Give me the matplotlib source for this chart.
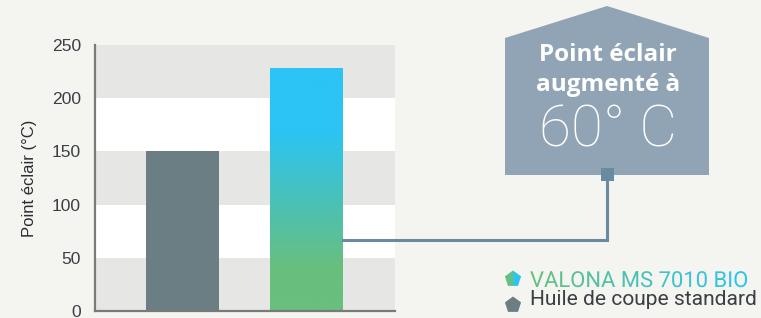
import numpy as np
import matplotlib
matplotlib.use("Agg")
import matplotlib.pyplot as plt
from matplotlib.patches import Polygon, PathPatch, Rectangle
from matplotlib.textpath import TextPath
from matplotlib.font_manager import FontProperties
from matplotlib.colors import LinearSegmentedColormap
from matplotlib.transforms import Affine2D

# data
categories = ["Huile de coupe standard", "VALONA MS 7010 BIO"]
flash_points = [150, 228]
yticks = [0, 50, 100, 150, 200, 250]
callout_lines = ["Point éclair", "augmenté à", "60° C"]

bg = "#f4f4f0"
band_gray = "#e6e7e4"
slate = "#6b7e84"
green = "#68bf7e"
cyan = "#2bc4f4"
box_col = "#91a4b5"
link_col = "#6a8aa0"
grad = LinearSegmentedColormap.from_list("valona", [green, green, cyan, cyan])

fig = plt.figure(figsize=(7.61, 3.18), dpi=100, facecolor=bg)
ax = fig.add_axes([95 / 761, 7 / 318, 300 / 761, 266 / 318])
ax.set_facecolor("white")

# alternating bands
for i, lo in enumerate(yticks[:-1]):
    if i % 2 == 0:
        ax.axhspan(lo, yticks[i + 1], color=band_gray, lw=0, zorder=0)

x = np.arange(len(categories))
bars = ax.bar(x, flash_points, width=0.59, color=[slate, "none"], zorder=2)

# gradient fill for the second bar
b = bars[1]
x0, w, h = b.get_x(), b.get_width(), b.get_height()
vals = np.linspace(0, 1, 256).reshape(-1, 1)
vgrad = np.clip((vals * h - 40) / (170 - 40), 0, 1)
im = ax.imshow(vgrad, extent=[x0, x0 + w, 0, h], origin="lower",
               cmap=LinearSegmentedColormap.from_list("v", [green, cyan]),
               aspect="auto", zorder=2)
im.set_clip_path(b)

ax.set_xlim(-0.71, 1.72)
ax.set_ylim(0, 250)
ax.set_yticks(yticks)
ax.set_xticks([])
ax.tick_params(axis="y", length=0, pad=10, labelsize=12.6, labelcolor="#3a3f44")
for lab in ax.get_yticklabels():
    lab.set_family("Liberation Sans")
ax.set_ylabel("Point éclair (°C)", family="Liberation Sans", fontsize=12,
              color="#2a2e31", labelpad=11)
for s in ["top", "right"]:
    ax.spines[s].set_visible(False)
for s in ["left", "bottom"]:
    ax.spines[s].set_color("#7a7a7a")
    ax.spines[s].set_linewidth(1.6)

# overlay in pixel coordinates
ov = fig.add_axes([0, 0, 1, 1])
ov.set_xlim(0, 761)
ov.set_ylim(318, 0)
ov.axis("off")
ov.patch.set_alpha(0)

# connector from bar to callout box
to_px = ax.transData + ov.transData.inverted()
sx, sy = to_px.transform((x0 + w, 67))
ov.plot([sx, 607, 607], [sy, sy, 176], color=link_col, lw=2.2, zorder=1,
        solid_joinstyle="miter")

house = Polygon([(505, 175), (505, 38), (607, 6), (709, 38), (709, 175)],
                closed=True, facecolor=box_col, edgecolor="none", zorder=2)
ov.add_patch(house)
ov.add_patch(Rectangle((601, 168), 13, 13, facecolor=link_col, zorder=3))

ov.text(608, 55, callout_lines[0], ha="center", va="center", color="white",
        family="Open Sans", weight="bold", fontsize=17.5, zorder=4)
ov.text(608, 85, callout_lines[1], ha="center", va="center", color="white",
        family="Open Sans", weight="bold", fontsize=17.5, zorder=4)
ov.text(608, 131, callout_lines[2], ha="center", va="center", color="white",
        family="Roboto", weight="light", fontsize=42, zorder=4)

# legend
def pentagon(cx, cy, r):
    ang = np.deg2rad(90 + 72 * np.arange(5))
    return np.column_stack([cx + r * np.cos(ang), cy - r * np.sin(ang)])

hgrad = np.linspace(0, 1, 256).reshape(1, -1)
p1 = Polygon(pentagon(513, 279, 8.5), closed=True, transform=ov.transData,
             facecolor="none", edgecolor="none")
ov.add_patch(p1)
pim = ov.imshow(hgrad, extent=[504, 522, 289, 270], cmap=grad, aspect="auto")
pim.set_clip_path(p1)
ov.add_patch(Polygon(pentagon(513, 305, 8.5), closed=True, facecolor=slate))

fp = FontProperties(family="Roboto", size=22)
tp = TextPath((0, 0), categories[1], prop=fp)
tx, ty = 530, 287
tpatch = PathPatch(tp, transform=Affine2D().scale(1, -1).translate(tx, ty) + ov.transData,
                   facecolor="none", edgecolor="none")
ov.add_patch(tpatch)
tw = tp.get_extents().width
tim = ov.imshow(hgrad, extent=[tx, tx + tw + 2, ty + 6, ty - 20],
                cmap=LinearSegmentedColormap.from_list("t", [green, cyan]), aspect="auto")
tim.set_clip_path(tpatch)

ov.text(tx, 305, categories[0], ha="left", va="baseline", color="#3a3f44",
        family="Roboto", fontsize=15.1)

ov.set_xlim(0, 761)
ov.set_ylim(318, 0)

fig.savefig("out.png", dpi=100, facecolor=bg)
